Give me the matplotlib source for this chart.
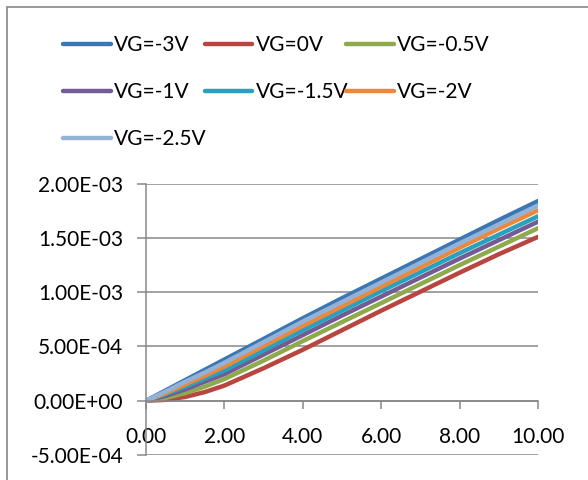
import numpy as np
import matplotlib
matplotlib.use("Agg")
from matplotlib import pyplot as plt
from matplotlib.ticker import FuncFormatter, MultipleLocator
from matplotlib.patches import Rectangle

# drain voltage (x) and drain current (y, in mA)
vd = [0, 0.5, 1, 1.5, 2, 3, 4, 5, 6, 7, 8, 9, 10]

id_m3 = [0, 0.095, 0.19, 0.285, 0.38, 0.57, 0.76, 0.945, 1.125, 1.305, 1.485, 1.665, 1.84]
id_0 = [0, 0.008, 0.035, 0.08, 0.14, 0.30, 0.47, 0.65, 0.83, 1.005, 1.18, 1.35, 1.51]
id_m05 = [0, 0.025, 0.07, 0.13, 0.20, 0.37, 0.55, 0.725, 0.9, 1.075, 1.25, 1.42, 1.59]
id_m1 = [0, 0.045, 0.105, 0.175, 0.245, 0.425, 0.605, 0.785, 0.96, 1.135, 1.31, 1.48, 1.65]
id_m15 = [0, 0.06, 0.13, 0.205, 0.28, 0.465, 0.65, 0.83, 1.01, 1.185, 1.36, 1.53, 1.70]
id_m2 = [0, 0.07, 0.15, 0.23, 0.315, 0.505, 0.69, 0.87, 1.05, 1.23, 1.41, 1.585, 1.755]
id_m25 = [0, 0.085, 0.175, 0.26, 0.35, 0.54, 0.73, 0.91, 1.09, 1.27, 1.45, 1.625, 1.80]

labels = ["VG=-3V", "VG=0V", "VG=-0.5V", "VG=-1V", "VG=-1.5V", "VG=-2V", "VG=-2.5V"]
series = [id_m3, id_0, id_m05, id_m1, id_m15, id_m2, id_m25]
colors = ["#3a77b3", "#b8453f", "#8eaa4c", "#735c96", "#27a1bd", "#ee8739", "#93b2d8"]

plt.rcParams["font.family"] = ["Lato", "DejaVu Sans"]

fig = plt.figure(figsize=(5.88, 4.80), dpi=100)
ax = fig.add_axes([146 / 588, 1 - 455 / 480, (538 - 146) / 588, (455 - 183.7) / 480])

lines = []
for y, c, lab in zip(series, colors, labels):
    ln, = ax.plot(vd, np.array(y) * 1e-3, color=c, linewidth=3.2, label=lab,
                  solid_capstyle="round", solid_joinstyle="round")
    lines.append(ln)

ax.set_xlim(0, 10)
ax.set_ylim(-5e-4, 2e-3)
ax.xaxis.set_major_locator(MultipleLocator(2))
ax.yaxis.set_major_locator(MultipleLocator(5e-4))
ax.xaxis.set_major_formatter(FuncFormatter(lambda v, p: f"{v:.2f}"))
ax.yaxis.set_major_formatter(FuncFormatter(lambda v, p: f"{v:.2E}"))

grey = "#878787"
ax.grid(axis="y", color=grey, linewidth=1.1)
ax.set_axisbelow(True)
for s in ["top", "right"]:
    ax.spines[s].set_visible(False)
ax.spines["bottom"].set_position(("data", 0))
ax.spines["bottom"].set_color(grey)
ax.spines["left"].set_color(grey)
ax.spines["bottom"].set_linewidth(1.1)
ax.spines["left"].set_linewidth(1.1)
ax.tick_params(axis="x", direction="out", length=6, width=1.1, color=grey,
               pad=13, labelsize=15)
ax.tick_params(axis="y", direction="out", length=6.5, width=1.1, color=grey,
               pad=10, labelsize=15)

# legend in row order like the original (3 columns)
order = [0, 3, 6, 1, 4, 2, 5]
fig.legend([lines[i] for i in order], [labels[i] for i in order],
           ncol=3, loc="upper left", bbox_to_anchor=(63 / 588, 1 - 35 / 480),
           frameon=False, fontsize=15, handlelength=2.3, handletextpad=0.15,
           columnspacing=-0.1, labelspacing=1.3, borderaxespad=0, borderpad=0)

# chart frame
fig.patches.append(Rectangle((7 / 588, -0.1), 1.2, 1.1 - 7 / 480, transform=fig.transFigure,
                             fill=False, edgecolor=grey, linewidth=1.2))

fig.savefig("out.png", dpi=100)
